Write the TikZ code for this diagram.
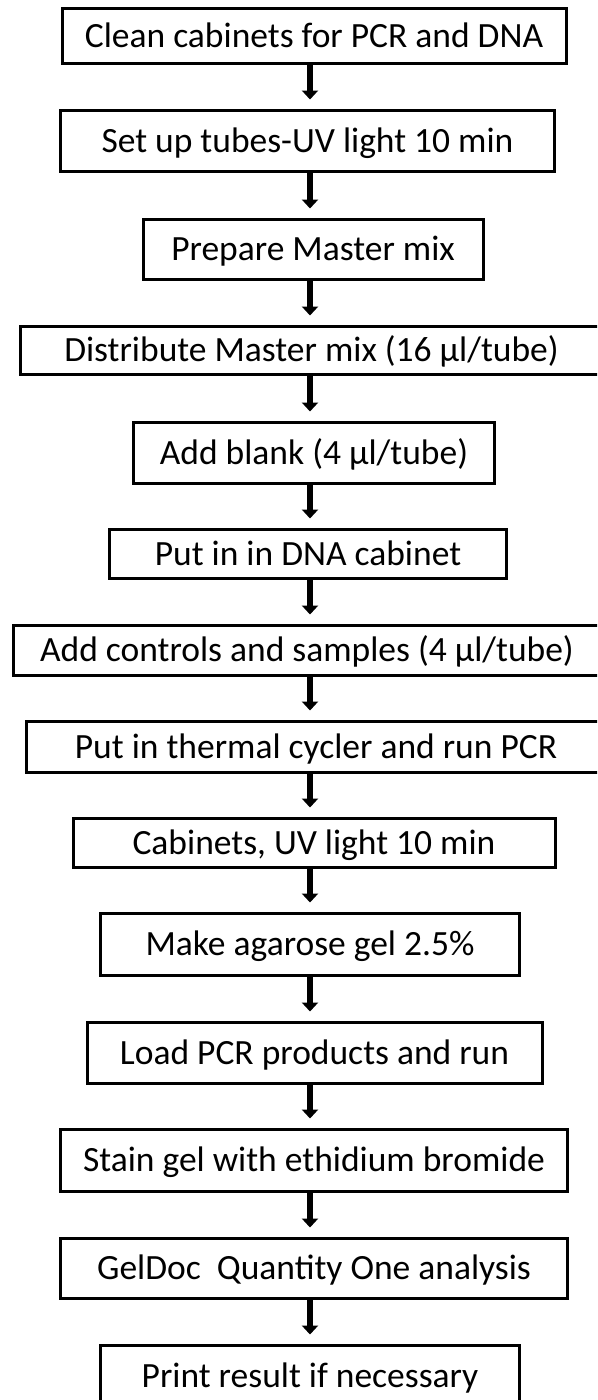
\documentclass[tikz,border=0pt]{standalone}
\usepackage{fontspec}
\setmainfont{Carlito}
\usetikzlibrary{arrows.meta}

\begin{document}
\begin{tikzpicture}[x=1pt,y=-1pt,
        stepbox/.style={draw,line width=3pt,inner sep=0pt,text height=23pt,text depth=0pt,
            font=\fontsize{35.5}{42}\selectfont},
        flow/.style={line width=6pt,-{Triangle[width=16pt,length=9pt]},shorten >=9pt}]
        \useasboundingbox (0,0) rectangle (597,1400);
        \clip (0,0) rectangle (597,1400);
        \coordinate (ax) at (310,0);

        \node[stepbox,minimum width=504pt,minimum height=55pt] (s1) at (314,35.5) {Clean cabinets for PCR and DNA};
        \node[stepbox,minimum width=494pt,minimum height=61pt] (s2) at (307.5,140.5) {Set up tubes-UV light 10 min};
        \node[stepbox,minimum width=340pt,minimum height=60pt] (s3) at (313,249) {Prepare Master mix};
        \node[stepbox,minimum width=582pt,minimum height=48pt] (s4) at (311.5,350) {Distribute Master mix (16 μl/tube)};
        \node[stepbox,minimum width=361pt,minimum height=61pt] (s5) at (314,452.5) {Add blank (4 μl/tube)};
        \node[stepbox,minimum width=397pt,minimum height=49pt] (s6) at (308,553.5) {Put in in DNA cabinet};
        \node[stepbox,minimum width=587pt,minimum height=50pt] (s7) at (307,650) {Add controls and samples (4 μl/tube)};
        \node[stepbox,minimum width=580pt,minimum height=51pt] (s8) at (316,746.5) {Put in thermal cycler and run PCR};
        \node[stepbox,minimum width=482pt,minimum height=49pt] (s9) at (314,842.5) {Cabinets, UV light 10 min};
        \node[stepbox,minimum width=419pt,minimum height=62pt] (s10) at (310,944) {Make agarose gel 2.5\%};
        \node[stepbox,minimum width=455pt,minimum height=61pt] (s11) at (314.5,1052.5) {Load PCR products and run};
        \node[stepbox,minimum width=507pt,minimum height=62pt] (s12) at (314,1160) {Stain gel with ethidium bromide};
        \node[stepbox,minimum width=507pt,minimum height=60pt] (s13) at (314,1268) {GelDoc~~Quantity One analysis};
        \node[stepbox,minimum width=419pt,minimum height=62pt] (s14) at (310,1376) {Print result if necessary};

        \path[flow] (s1.south -| ax) edge (s2.north -| ax)
                    (s2.south -| ax) edge (s3.north -| ax)
                    (s3.south -| ax) edge (s4.north -| ax)
                    (s4.south -| ax) edge (s5.north -| ax)
                    (s5.south -| ax) edge (s6.north -| ax)
                    (s6.south -| ax) edge (s7.north -| ax)
                    (s7.south -| ax) edge (s8.north -| ax)
                    (s8.south -| ax) edge (s9.north -| ax)
                    (s9.south -| ax) edge (s10.north -| ax)
                    (s10.south -| ax) edge (s11.north -| ax)
                    (s11.south -| ax) edge (s12.north -| ax)
                    (s12.south -| ax) edge (s13.north -| ax)
                    (s13.south -| ax) edge (s14.north -| ax);
    \end{tikzpicture}
\end{document}
